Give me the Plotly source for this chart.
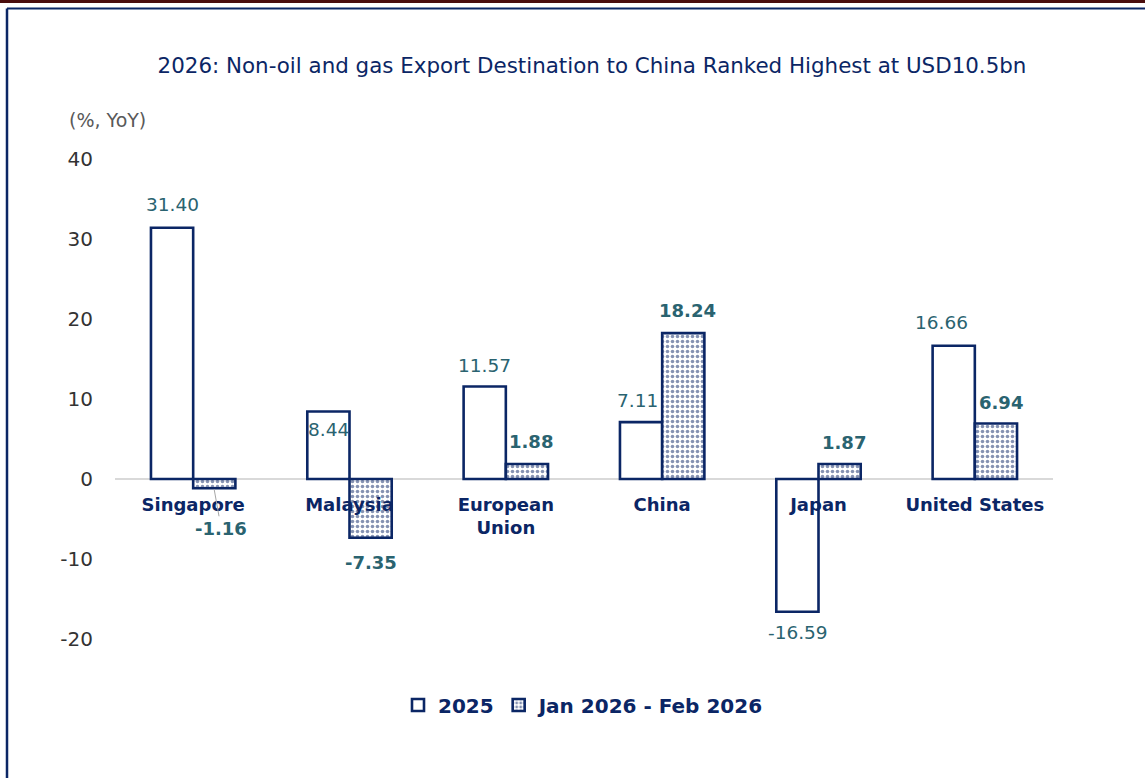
import plotly.graph_objects as go

categories = ["Singapore", "Malaysia", "European<br>Union", "China", "Japan", "United States"]
values_2025 = [31.40, 8.44, 11.57, 7.11, -16.59, 16.66]
values_2026 = [-1.16, -7.35, 1.88, 18.24, 1.87, 6.94]
series_names = ["2025", "Jan 2026 - Feb 2026"]
y_ticks = [-20, -10, 0, 10, 20, 30, 40]
y_ticktext = ["-20", "-10", "0", "10", "20", "30", "40"]
y_range = [-20, 40]

NAVY = "#0b2665"
TEAL = "#2a6370"
W, H = 1145, 778
ML, MR, MT, MB = 115, 92, 159, 139

fig = go.Figure()
fig.add_trace(go.Bar(
    x=categories, y=values_2025, name=series_names[0],
    marker=dict(color="white", line=dict(color=NAVY, width=2.6)),
))
fig.add_trace(go.Bar(
    x=categories, y=values_2026, name=series_names[1],
    marker=dict(color="white", line=dict(color=NAVY, width=2.6),
                pattern=dict(shape=".", fgcolor=NAVY, bgcolor="white", size=5, solidity=0.4)),
))

# data labels: pixel offsets relative to the bar end
dx1 = [0, 0, 0, -4, 0, -12]
dy1 = [23, -18, 21, 22, -21, 23]
for c, v, dx, dy in zip(categories, values_2025, dx1, dy1):
    fig.add_annotation(x=c, y=v, text=f"{v:.2f}", showarrow=False, xshift=-21 + dx, yshift=dy,
                       font=dict(family="DejaVu Sans", size=18.5, color=TEAL))
dx2 = [7, 0, 4, 4, 4, 5]
dy2 = [-39, -25, 22, 23, 22, 21]
for i, (c, v, dx, dy) in enumerate(zip(categories, values_2026, dx2, dy2)):
    lab_font = dict(family="DejaVu Sans", size=18, color=TEAL, weight="bold")
    if i == 0:
        fig.add_annotation(x=c, y=v, text=f"{v:.2f}", showarrow=True, arrowhead=0,
                           arrowcolor="#a6a6a6", arrowwidth=1, ax=dx, ay=-dy,
                           xshift=21, yshift=-1, standoff=0, font=lab_font)
    else:
        fig.add_annotation(x=c, y=v, text=f"{v:.2f}", showarrow=False, xshift=21 + dx,
                           yshift=dy, font=lab_font)

# frame decoration
px = lambda p: (p - ML) / (W - ML - MR)
py = lambda p: (H - MB - p) / (H - MT - MB)
fig.add_shape(type="line", xref="paper", yref="paper", x0=px(0), x1=px(W), y0=py(1.5), y1=py(1.5),
              line=dict(color="#4a0d0d", width=3))
fig.add_shape(type="line", xref="paper", yref="paper", x0=px(7), x1=px(W), y0=py(8.5), y1=py(8.5),
              line=dict(color=NAVY, width=2))
fig.add_shape(type="line", xref="paper", yref="paper", x0=px(7), x1=px(7), y0=py(8.5), y1=py(H),
              line=dict(color=NAVY, width=2.5))

fig.add_annotation(xref="paper", yref="paper", x=px(67), y=py(120), xanchor="left", yanchor="middle",
                   text="(%, YoY)", showarrow=False,
                   font=dict(family="DejaVu Sans", size=19, color="#595959"))

fig.update_layout(
    width=W, height=H,
    margin=dict(l=ML, r=MR, t=MT, b=MB, autoexpand=False),
    paper_bgcolor="white", plot_bgcolor="white",
    barmode="group", bargap=0.46, bargroupgap=0,
    title=dict(text="2026: Non-oil and gas Export Destination to China Ranked Highest at USD10.5bn",
               x=592 / W, xanchor="center", y=1 - 66 / H, yanchor="middle",
               font=dict(family="DejaVu Sans", size=21.4, color=NAVY)),
    legend=dict(orientation="h", x=px(584), xanchor="center", y=py(705), yanchor="middle",
                font=dict(family="DejaVu Sans", size=20, color=NAVY, weight="bold"),
                itemwidth=30, tracegroupgap=0),
    showlegend=True,
)
fig.update_yaxes(range=y_range, tickvals=y_ticks, ticktext=y_ticktext, showgrid=False, zeroline=True,
                 zerolinecolor="#d9d9d9", zerolinewidth=2, showline=False,
                 tickfont=dict(family="DejaVu Sans", size=20, color="#333333"),
                 ticklabelstandoff=21)
fig.update_xaxes(anchor="free", position=(0 - y_range[0]) / (y_range[1] - y_range[0]),
                 showline=False, showgrid=False, ticks="", ticklabelstandoff=13,
                 tickfont=dict(family="DejaVu Sans", size=18, color=NAVY, weight="bold"))

fig.write_html("out.html", config={"displayModeBar": False},
               post_script="document.body.style.margin='0';")
